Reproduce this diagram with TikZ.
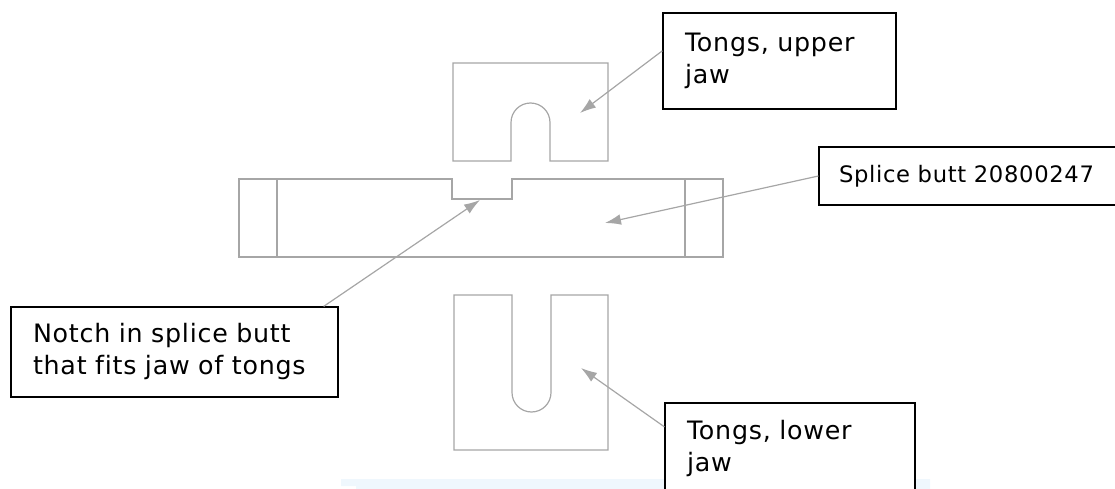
\documentclass[tikz,border=0pt]{standalone}
\usepackage{fontspec}
\setmainfont[LetterSpace=3,Ligatures=CommonOff]{DejaVu Sans}
\usetikzlibrary{arrows.meta}
\definecolor{partgray}{HTML}{A6A6A6}
\definecolor{paleblue}{HTML}{EFF7FD}
\tikzstyle{part} = [draw=partgray,line width=0.9pt]
\tikzstyle{pointer} = [draw=partgray,line width=0.9pt,-{Latex[length=12pt,width=8pt]}]
\begin{document}
\begin{tikzpicture}
[x=0.75pt,y=-0.75pt,
labelbox/.style={shape=rectangle,draw,line width=0.9pt,fill=white,inner xsep=16.5pt,inner ysep=0pt,align=left,font=\fontsize{19}{24}\selectfont}]

\useasboundingbox (0,0) rectangle (1115,489);

%% pale band at the bottom
\fill[paleblue] (356,489) -- (356,486) -- (341,486) -- (341,479) -- (930,479) -- (930,489) -- cycle;

%% parts
\draw[part] (453,63) -- (608,63) -- (608,161) -- (550,161) -- (550,122.5) arc (0:-180:19.5) -- (511,161) -- (453,161) -- cycle;
\draw[part] (239,179) -- (452,179) -- (452,199) -- (512,199) -- (512,179) -- (723,179) -- (723,257) -- (239,257) -- cycle;
\foreach \x in {277,685}
{
\draw[part] (\x,179) -- (\x,257);
}
\draw[part] (454,295) -- (512,295) -- (512,392.5) arc (180:0:19.5) -- (551,295) -- (608,295) -- (608,450) -- (454,450) -- cycle;

%% tips of the pointers
\foreach \tipname/\x/\y in {upperTip/580/113, butTip/605/223, notchTip/480/200, lowerTip/581/368}
{
\coordinate (\tipname) at (\x,\y);
}

%% label boxes
\foreach \boxname/\x/\y/\w/\h/\boxtext in {
upperBox/779.5/61/141.75/72/{Tongs, upper\\jaw},
lowerBox/790/449/154.5/69/{Tongs, lower\\jaw},
notchBox/174.5/352/212.25/67.5/{Notch in splice butt\\that fits jaw of tongs}}
{
\node (\boxname) at (\x,\y) [labelbox,text width=\w pt,minimum height=\h pt] {\boxtext};
}
\node (butBox) at (971,176) [labelbox,text width=198pt,inner xsep=15pt,minimum height=43.5pt,font=\fontsize{17}{22}\selectfont] {Splice butt 20800247};

%% pointers
\draw[pointer] (upperBox.175.6) -- (upperTip);
\draw[pointer] (butBox.west) -- (butTip);
\draw[pointer] (notchBox.17.2) -- (notchTip);
\draw[pointer] (lowerBox.170.5) -- (lowerTip);

\end{tikzpicture}
\end{document}
